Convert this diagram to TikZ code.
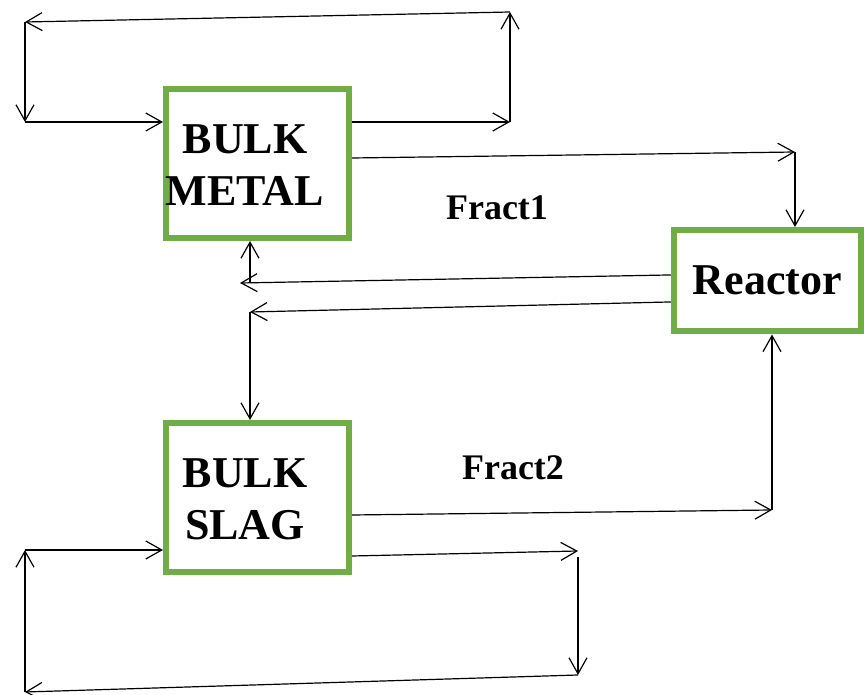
\documentclass[tikz,border=0pt]{standalone}
\usepackage{fontspec}
\setmainfont{Liberation Serif}
\usetikzlibrary{arrows.meta}
\definecolor{unitgreen}{RGB}{112,173,71}
\tikzset{
    ->,
    >={Straight Barb[length=8pt,width=9pt]},
    unit/.style={rectangle, draw=unitgreen, line width=3pt, inner sep=0pt,
        minimum width=91.5pt, minimum height=74.5pt},
    unit text/.style={font=\bfseries\fontsize{22}{26}\selectfont, align=center},
    stream/.style={font=\bfseries\fontsize{18}{22}\selectfont},
}

\begin{document}
\begin{tikzpicture}[x=0.5pt, y=-0.5pt, line width=0.6pt]
        \useasboundingbox[-] (0,0) rectangle (864,695);

        \node[unit] (metal) at (257.5,163.5) {};
        \node[unit text] (metaltext) at (245,165) {BULK\\METAL};
        \node[unit] (slag) at (257.5,497.5) {};
        \node[unit text] (slagtext) at (245,499) {BULK\\SLAG};
        \node[unit, unit text, minimum width=93.5pt, minimum height=50.75pt]
            (reactor) at (767.25,280.75) {Reactor};

        \node[stream] (fract1) at (497,208) {Fract1};
        \node[stream] (fract2) at (513,468) {Fract2};

        % recycle loop round the metal
        \coordinate (mout) at (510,122);
        \coordinate (mtop) at (510,12);
        \coordinate (mback) at (25,22);
        \coordinate (min) at (25,122);
        \draw (metal.east |- mout) -- (mout);
        \draw (mout) -- (mtop);
        \draw (mtop) -- (mback);
        \draw (mback) -- (min);
        \draw (min) -- (metal.west |- min);

        % metal to reactor
        \coordinate (f1) at (795,152);
        \draw ([yshift=2.75pt]metal.east) -- (f1);
        \draw (f1) -- (reactor.north -| f1);

        % reactor back to metal and slag
        \coordinate (rm) at (240,283);
        \coordinate (rmup) at (250,283);
        \draw ([yshift=2.9pt]reactor.west) -- (rm);
        \draw (rmup) -- (metal.south -| rmup);
        \coordinate (rs) at (250,312);
        \draw ([yshift=-10.6pt]reactor.west) -- (rs);
        \draw (rs) -- (slag.north -| rs);

        % slag to reactor
        \coordinate (f2) at (772,510);
        \draw ([yshift=-8.75pt]slag.east) -- (f2);
        \draw (f2) -- (reactor.south -| f2);

        % recycle loop round the slag
        \coordinate (sout) at (578,551);
        \coordinate (sdown) at (578,557);
        \coordinate (sbot) at (578,675);
        \coordinate (sback) at (25,692);
        \coordinate (sin) at (25,550);
        \draw ([yshift=-29.25pt]slag.east) -- (sout);
        \draw (sdown) -- (sbot);
        \draw (sbot) -- (sback);
        \draw (sback) -- (sin);
        \draw (sin) -- (slag.west |- sin);
\end{tikzpicture}
\end{document}
